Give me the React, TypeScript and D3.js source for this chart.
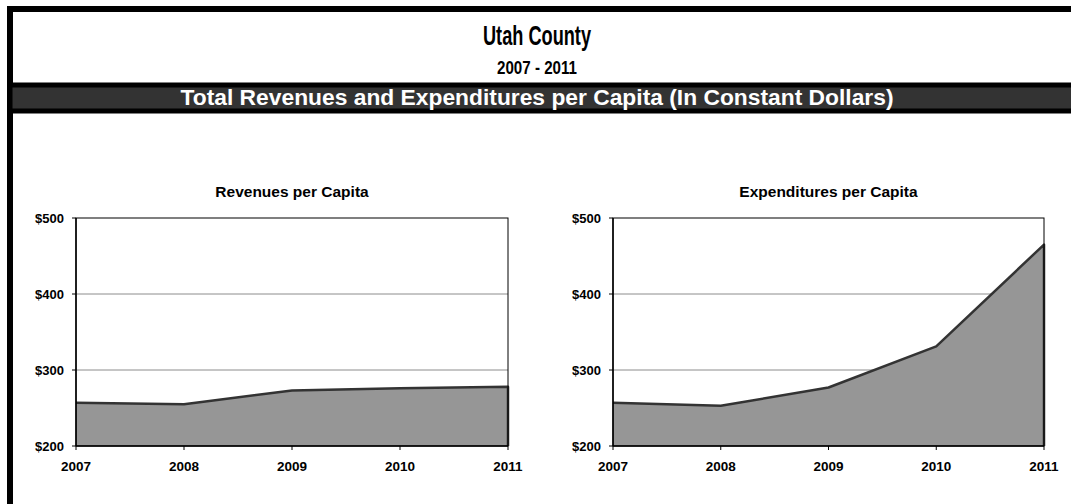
import React from "react";
import * as d3 from "d3";

const years = ["2007", "2008", "2009", "2010", "2011"];
const revenues = [257, 255, 273, 276, 278];
const expenditures = [257, 253, 277, 331, 465];
const yTicks = [200, 300, 400, 500];
const mainTitle = "Utah County";
const subTitle = "2007 - 2011";
const bandTitle = "Total Revenues and Expenditures per Capita (In Constant Dollars)";
const chartTitles = ["Revenues per Capita", "Expenditures per Capita"];

const W = 1071;
const H = 504;
const narrow = "'Liberation Sans Narrow', 'Arial Narrow', 'Liberation Sans', Arial, sans-serif";
const sans = "'Liberation Sans', Arial, sans-serif";

function Panel({ x0, x1, title, values }: { x0: number; x1: number; title: string; values: number[] }) {
  const top = 218;
  const bottom = 446;
  const x = d3.scalePoint<string>().domain(years).range([x0, x1]);
  const y = d3.scaleLinear().domain([200, 500]).range([bottom, top]);
  const data = years.map((yr, i) => ({ yr, v: values[i] }));
  const area = d3
    .area<{ yr: string; v: number }>()
    .x((d) => x(d.yr) as number)
    .y0(y(200))
    .y1((d) => y(d.v));
  const line = d3
    .line<{ yr: string; v: number }>()
    .x((d) => x(d.yr) as number)
    .y((d) => y(d.v));
  const last = data[data.length - 1];
  const outline = line(data) + `L${x(last.yr)},${y(200)}`;
  return (
    <g>
      <text x={(x0 + x1) / 2} y={197} textAnchor="middle" fontFamily={sans} fontWeight="bold" fontSize={15.5}>
        {title}
      </text>
      {yTicks.filter((t) => t > 200 && t < 500).map((t) => (
        <line key={t} x1={x0} x2={x1} y1={y(t)} y2={y(t)} stroke="#8c8c8c" strokeWidth={1} />
      ))}
      <path d={area(data) || ""} fill="#969696" />
      <path d={outline} fill="none" stroke="#333333" strokeWidth={2.5} strokeLinejoin="round" />
      <rect x={x0} y={top} width={x1 - x0} height={bottom - top} fill="none" stroke="#000" strokeWidth={1} />
      <line x1={x0} x2={x0} y1={top} y2={bottom} stroke="#000" strokeWidth={1.5} />
      <line x1={x0} x2={x1} y1={bottom} y2={bottom} stroke="#000" strokeWidth={1.5} />
      {yTicks.map((t) => (
        <g key={t}>
          <line x1={x0 - 4} x2={x0} y1={y(t)} y2={y(t)} stroke="#000" strokeWidth={1} />
          <text x={x0 - 12} y={y(t)} dy="0.35em" textAnchor="end" fontFamily={sans} fontWeight="bold" fontSize={13}>
            {d3.format("$,")(t)}
          </text>
        </g>
      ))}
      {years.map((yr) => (
        <g key={yr}>
          <line x1={x(yr)} x2={x(yr)} y1={bottom} y2={bottom + 4} stroke="#000" strokeWidth={1} />
          <text x={x(yr)} y={471} textAnchor="middle" fontFamily={sans} fontWeight="bold" fontSize={13.5}>
            {yr}
          </text>
        </g>
      ))}
    </g>
  );
}

export default function App() {
  return (
    <svg width={W} height={H} style={{ position: "absolute", left: 0, top: 0, background: "#fff" }}>
      <rect x={0} y={0} width={W} height={H} fill="#fff" />
      <rect x={10} y={9} width={1075} height={520} fill="none" stroke="#000" strokeWidth={6} />
      <text x={537} y={45} textAnchor="middle" fontFamily={narrow} fontWeight="bold" fontSize={27} textLength={108} lengthAdjust="spacingAndGlyphs">
        {mainTitle}
      </text>
      <text x={537} y={74} textAnchor="middle" fontFamily={narrow} fontWeight="bold" fontSize={19} textLength={80} lengthAdjust="spacingAndGlyphs">
        {subTitle}
      </text>
      <rect x={10} y={85} width={1075} height={26} fill="#333333" stroke="#000" strokeWidth={5} />
      <text x={537} y={105} textAnchor="middle" fill="#fff" fontFamily={narrow} fontWeight="bold" fontSize={22} textLength={713} lengthAdjust="spacingAndGlyphs">
        {bandTitle}
      </text>
      <Panel x0={76} x1={508} title={chartTitles[0]} values={revenues} />
      <Panel x0={613} x1={1044} title={chartTitles[1]} values={expenditures} />
    </svg>
  );
}
